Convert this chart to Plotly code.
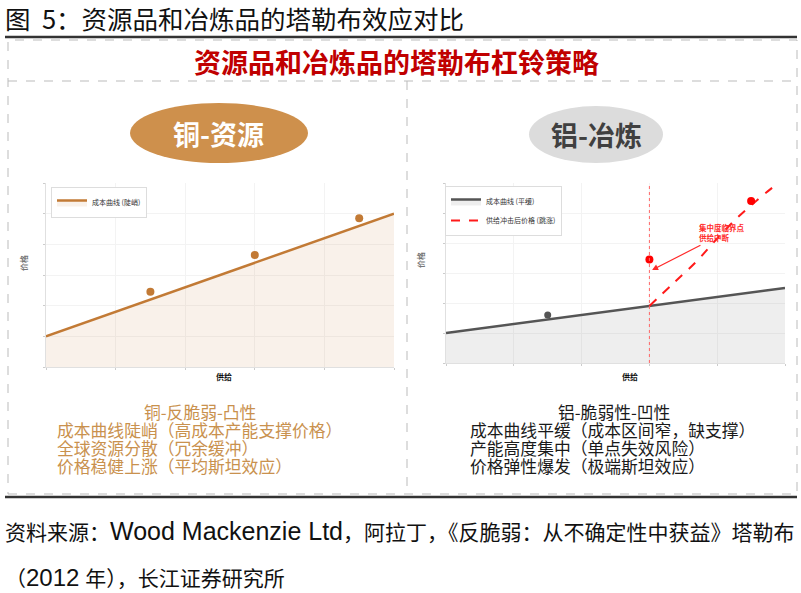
import plotly.graph_objects as go

W, H = 801, 593

# ---- data ----
steep_x = [0, 10]
steep_y = [2, 10]
steep_dots_x = [3, 6, 9]
steep_dots_y = [4.9, 7.3, 9.7]

flat_x = [0, 10]
flat_y = [2, 5]
flat_dot_x = [3]
flat_dot_y = [3.2]

shock_x = [6, 6.7, 7.4, 8.0, 8.6, 9.2, 9.8]
shock_y = [3.8, 5.3, 6.8, 8.3, 9.7, 10.9, 12.0]
shock_dots_x = [6, 9]
shock_dots_y = [6.9, 10.8]
critical_x = 6

copper_lines = ["成本曲线陡峭（高成本产能支撑价格）", "全球资源分散（冗余缓冲）", "价格稳健上涨（平均斯坦效应）"]
alu_lines = ["成本曲线平缓（成本区间窄，缺支撑）", "产能高度集中（单点失效风险）", "价格弹性爆发（极端斯坦效应）"]

CJK = "Noto Sans CJK SC"
SRC = "Liberation Sans, Noto Sans CJK SC"
BROWN = "#C27A35"
GOLD = "#C9914E"


def px(x):
    return x / W


def py(y):
    return 1 - y / H


fig = go.Figure()

# left chart: copper
fig.add_trace(go.Scatter(x=steep_x, y=steep_y, mode="lines", name="成本曲线 (陡峭)",
                         line=dict(color=BROWN, width=2.5), fill="tozeroy",
                         fillcolor="rgba(194,122,53,0.10)", xaxis="x", yaxis="y", legend="legend"))
fig.add_trace(go.Scatter(x=steep_dots_x, y=steep_dots_y, mode="markers", showlegend=False,
                         marker=dict(color=BROWN, size=8), xaxis="x", yaxis="y"))

# right chart: aluminium
fig.add_trace(go.Scatter(x=flat_x, y=flat_y, mode="lines", name="成本曲线 (平缓)",
                         line=dict(color="#555555", width=2.5), fill="tozeroy",
                         fillcolor="rgba(120,120,120,0.13)", xaxis="x2", yaxis="y2", legend="legend2"))
fig.add_trace(go.Scatter(x=shock_x, y=shock_y, mode="lines", name="供给冲击后价格 (跳涨)",
                         line=dict(color="#FF1A1A", width=2, dash="dash", shape="spline"),
                         xaxis="x2", yaxis="y2", legend="legend2"))
fig.add_trace(go.Scatter(x=flat_dot_x, y=flat_dot_y, mode="markers", showlegend=False,
                         marker=dict(color="#555555", size=7), xaxis="x2", yaxis="y2"))
fig.add_trace(go.Scatter(x=shock_dots_x, y=shock_dots_y, mode="markers", showlegend=False,
                         marker=dict(color="#FF0000", size=8), xaxis="x2", yaxis="y2"))

axis_style = dict(range=[0, 10], dtick=2, showticklabels=False, ticks="outside", ticklen=2,
                  tickcolor="#CCCCCC", showgrid=True, gridcolor="#F3F3F3", showline=True,
                  linecolor="#E0E0E0", zeroline=False, fixedrange=True)
yaxis_style = dict(axis_style, range=[0, 12])

fig.update_layout(
    width=W, height=H, margin=dict(l=0, r=0, t=0, b=0),
    paper_bgcolor="white", plot_bgcolor="white",
    xaxis=dict(axis_style, domain=[px(46), px(394)], anchor="y"),
    yaxis=dict(yaxis_style, domain=[py(367), py(183)], anchor="x"),
    xaxis2=dict(axis_style, domain=[px(446), px(785)], anchor="y2"),
    yaxis2=dict(yaxis_style, domain=[py(363), py(183)], anchor="x2"),
    legend=dict(x=px(51), y=py(187), xanchor="left", yanchor="top", bgcolor="white",
                bordercolor="#DDDDDD", borderwidth=1, font=dict(family=CJK, size=7, color="#333"),
                itemwidth=30, tracegroupgap=0),
    legend2=dict(x=px(445), y=py(186), xanchor="left", yanchor="top", bgcolor="white",
                 bordercolor="#DDDDDD", borderwidth=1, font=dict(family=CJK, size=7, color="#333"),
                 itemwidth=30, tracegroupgap=0),
)

# critical point vertical
fig.add_shape(type="line", xref="x2", yref="y2 domain", x0=critical_x, x1=critical_x, y0=0, y1=1,
              line=dict(color="#FF6666", width=1, dash="dot"))

shapes = [
    # top rule / bottom rule
    dict(type="line", x0=px(5), x1=px(797), y0=py(37), y1=py(37), line=dict(color="#333333", width=2.5)),
    dict(type="line", x0=px(5), x1=px(797), y0=py(497), y1=py(497), line=dict(color="#333333", width=2.5)),
    # dashed frame
    dict(type="rect", x0=px(8), x1=px(797), y0=py(494), y1=py(40),
         line=dict(color="#BBBBBB", width=1, dash="dash")),
    dict(type="line", x0=px(8), x1=px(797), y0=py(81), y1=py(81), line=dict(color="#BBBBBB", width=1, dash="dash")),
    dict(type="line", x0=px(407), x1=px(407), y0=py(81), y1=py(494), line=dict(color="#BBBBBB", width=1, dash="dash")),
    # ellipses
    dict(type="circle", x0=px(130), x1=px(308), y0=py(163), y1=py(103), fillcolor="#CE904C", line=dict(width=0)),
    dict(type="circle", x0=px(529), x1=px(663), y0=py(163), y1=py(106), fillcolor="#DCDCDC", line=dict(width=0)),
]
for s in shapes:
    fig.add_shape(xref="paper", yref="paper", layer="above", **s)


def label(x, y, text, size, color, family=CJK, xanchor="center", bold=False, angle=0):
    fig.add_annotation(xref="paper", yref="paper", x=px(x), y=py(y), text=f"<b>{text}</b>" if bold else text,
                       showarrow=False, xanchor=xanchor, yanchor="middle", textangle=angle,
                       font=dict(family=family, size=size, color=color))


label(3, 17, "图&nbsp;&nbsp;5：资源品和冶炼品的塔勒布效应对比", 25.5, "#111111", xanchor="left")
label(396, 62, "资源品和冶炼品的塔勒布杠铃策略", 27, "#C00000", bold=True)
label(218, 133, "铜-资源", 27, "white", bold=True)
label(596, 134, "铝-冶炼", 27, "#404040", bold=True)

label(224, 376, "供给", 8, "#111111", bold=True)
label(630, 377, "供给", 8, "#111111", bold=True)
label(23, 263, "价格", 8, "#777777", bold=True, angle=-90)
label(420, 260, "价格", 8, "#777777", bold=True, angle=-90)

label(200, 412, "铜-反脆弱-凸性", 16.8, GOLD)
for i, t in enumerate(copper_lines):
    label(55, 430 + 18 * i, t, 16.8, GOLD, xanchor="left")
label(614, 412, "铝-脆弱性-凹性", 16.8, "#1A1A1A")
for i, t in enumerate(alu_lines):
    label(468, 430 + 18 * i, t, 16.8, "#1A1A1A", xanchor="left")

label(3, 531, "资料来源：<span style=\"font-size:25px\">Wood Mackenzie Ltd</span>，阿拉丁，《反脆弱：从不确定性中获益》塔勒布",
      21, "#111111", family=SRC, xanchor="left")
label(3, 577, "（<span style=\"font-size:24px\">2012</span> 年），长江证券研究所", 21, "#111111",
      family=SRC, xanchor="left")

# annotation in right chart
fig.add_annotation(xref="x2", yref="y2", x=6.08, y=6.2, ax=7.55, ay=7.9, axref="x2", ayref="y2",
                   text="", showarrow=True, arrowhead=2, arrowsize=1, arrowwidth=1.2, arrowcolor="#FF2A2A")
fig.add_annotation(xref="x2", yref="y2", x=7.4, y=8.7, text="<b>集中度临界点<br>供给中断</b>",
                   showarrow=False, xanchor="left", yanchor="middle", align="left",
                   font=dict(family=CJK, size=7.5, color="#FF2A2A"))

fig.write_html("out.html", config={"displayModeBar": False},
               post_script="document.body.style.margin='0';")
